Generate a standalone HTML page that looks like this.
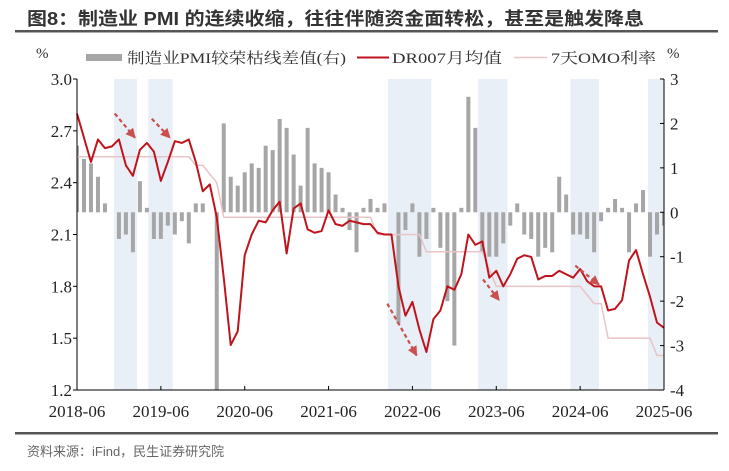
<!DOCTYPE html>
<html><head><meta charset="utf-8"><style>
html,body{margin:0;padding:0;background:#fff;}
svg{display:block;}
</style></head><body>
<svg id="chart" width="729" height="471" viewBox="0 0 729 471" xmlns="http://www.w3.org/2000/svg">
<text x="27" y="25" font-family="Liberation Sans, Noto Sans CJK SC, sans-serif" font-size="18" font-weight="bold" fill="#333" textLength="617" lengthAdjust="spacingAndGlyphs">图8：制造业 PMI 的连续收缩，往往伴随资金面转松，甚至是触发降息</text>
<rect x="15" y="30" width="703" height="2.5" fill="#555"/>
<g id="legend" font-family="Liberation Serif, Noto Serif CJK SC, serif" font-size="15" fill="#333">
  <text x="36" y="58">%</text>
  <g><rect x="86" y="54" width="36" height="7" fill="#a6a6a6"/><text x="127" y="63" textLength="219" lengthAdjust="spacingAndGlyphs">制造业PMI较荣枯线差值(右)</text></g>
  <g><line x1="357" y1="57.5" x2="389" y2="57.5" stroke="#c0141c" stroke-width="2"/><text x="392" y="63" textLength="110" lengthAdjust="spacingAndGlyphs">DR007月均值</text></g>
  <g><line x1="514" y1="57.5" x2="547" y2="57.5" stroke="#e8c4c8" stroke-width="1.5"/><text x="551" y="63" textLength="105" lengthAdjust="spacingAndGlyphs">7天OMO利率</text></g>
  <text x="667" y="58">%</text>
</g>
<g id="plot"></g>
<rect x="15" y="432" width="703" height="2.5" fill="#555"/>
<text x="27" y="456" font-family="Liberation Sans, Noto Sans CJK SC, sans-serif" font-size="13" fill="#666">资料来源：iFind，民生证券研究院</text>
</svg>
<script>
const months = 85;
const xTickLabels = ["2018-06","2019-06","2020-06","2021-06","2022-06","2023-06","2024-06","2025-06"];
const leftTicks = [1.2,1.5,1.8,2.1,2.4,2.7,3.0];
const rightTicks = [-4,-3,-2,-1,0,1,2,3];
const dr007 = [2.80,2.66,2.52,2.65,2.60,2.61,2.65,2.50,2.44,2.59,2.63,2.58,2.41,2.52,2.64,2.63,2.65,2.52,2.35,2.39,2.20,1.85,1.46,1.54,1.98,2.10,2.18,2.17,2.24,2.29,1.99,2.25,2.28,2.13,2.11,2.12,2.24,2.16,2.15,2.18,2.17,2.16,2.16,2.11,2.10,2.10,1.80,1.63,1.71,1.55,1.42,1.61,1.66,1.80,1.78,1.87,2.10,2.04,2.06,1.85,1.89,1.80,1.87,1.96,1.98,1.97,1.84,1.86,1.86,1.89,1.87,1.85,1.90,1.83,1.80,1.80,1.66,1.67,1.72,1.95,2.01,1.87,1.74,1.59,1.56];
const omo = [2.55,2.55,2.55,2.55,2.55,2.55,2.55,2.55,2.55,2.55,2.55,2.55,2.55,2.55,2.55,2.55,2.55,2.50,2.50,2.45,2.40,2.20,2.20,2.20,2.20,2.20,2.20,2.20,2.20,2.20,2.20,2.20,2.20,2.20,2.20,2.20,2.20,2.20,2.20,2.20,2.20,2.20,2.20,2.10,2.10,2.10,2.10,2.10,2.10,2.10,2.00,2.00,2.00,2.00,2.00,2.00,2.00,2.00,2.00,1.90,1.80,1.80,1.80,1.80,1.80,1.80,1.80,1.80,1.80,1.80,1.80,1.80,1.80,1.75,1.70,1.70,1.50,1.50,1.50,1.50,1.50,1.50,1.50,1.40,1.40];
const pmiGap = [1.5,1.2,1.1,0.8,0.2,0,-0.6,-0.5,-0.9,0.7,0.1,-0.6,-0.6,-0.3,-0.5,-0.2,-0.7,0.2,0.2,0,-4.5,2.0,0.8,0.6,0.9,1.1,1.0,1.5,1.4,2.1,1.9,1.3,0.6,1.9,1.1,1.0,0.9,0.4,0.1,-0.4,-0.9,0.1,0.3,0.1,0.2,0,-2.5,-0.4,0.2,-1.0,-0.6,0.1,-0.8,-2.0,-3.0,0.1,2.6,1.9,-0.9,-1.0,-1.0,-0.7,-0.3,0.2,-0.5,-0.6,-1.0,-0.8,-0.9,0.8,0.4,-0.5,-0.5,-0.6,-0.9,-0.2,0.1,0.3,0.1,-0.9,0.2,0.5,-1.0,-0.5,-0.3];
const shadedStart = [5.3,10.2,44.5,57.4,70.6,81.7];
const shadedEnd = [8.6,13.7,50.7,61.6,74.7,84];
const arrowFrom = [[5.4,2.80],[10.7,2.77],[44.4,1.70],[58.1,1.84],[71.3,1.92]];
const arrowTo = [[8.3,2.66],[13.3,2.66],[48.6,1.40],[60.4,1.72],[74.7,1.81]];

const NS="http://www.w3.org/2000/svg";
const X0=77,X1=664,Y0=79,Y1=390;
const xS=i=>X0+(X1-X0)*i/84;
const yL=v=>Y1-(v-1.2)/(3.0-1.2)*(Y1-Y0);
const yR=v=>Y1-(v+4)/7*(Y1-Y0);
const plot=document.getElementById('plot');
function mk(tag,attrs,parent){const e=document.createElementNS(NS,tag);for(const k in attrs)e.setAttribute(k,attrs[k]);(parent||plot).appendChild(e);return e;}
const defs=mk('defs',{});
const cp=mk('clipPath',{id:'clip'},defs);mk('rect',{x:X0,y:Y0,width:X1-X0,height:Y1-Y0},cp);
const mkr=mk('marker',{id:'ah',markerWidth:10,markerHeight:10,refX:9,refY:5,orient:'auto',markerUnits:'userSpaceOnUse'},defs);
mk('path',{d:'M0,0 L10,5 L0,10 z',fill:'#c9504c'},mkr);

for(let k=0;k<shadedStart.length;k++){
  const r=mk('rect',{x:xS(shadedStart[k]),y:Y0,width:xS(shadedEnd[k])-xS(shadedStart[k]),height:Y1-Y0,fill:'#e9eff7'});
  
  
}
const bars=mk('g',{'clip-path':'url(#clip)'});


pmiGap.forEach((v,i)=>{
  if(v===0)return;
  const y0=yR(0),y1=yR(v);
  const b=mk('rect',{x:xS(i)-2,y:Math.min(y0,y1),width:4,height:Math.abs(y1-y0),fill:'#a6a6a6'},bars);
  
  
});
const omoL=mk('polyline',{points:omo.map((v,i)=>xS(i)+','+yL(v)).join(' '),fill:'none',stroke:'#e8c4c8','stroke-width':1.5});


const drL=mk('polyline',{points:dr007.map((v,i)=>xS(i)+','+yL(v)).join(' '),fill:'none',stroke:'#c0141c','stroke-width':2,'stroke-linejoin':'round'});


for(let k=0;k<arrowFrom.length;k++){
  const a=mk('line',{x1:xS(arrowFrom[k][0]),y1:yL(arrowFrom[k][1]),x2:xS(arrowTo[k][0]),y2:yL(arrowTo[k][1]),stroke:'#c9504c','stroke-width':2.2,'stroke-dasharray':'4,3','marker-end':'url(#ah)'});
  
  
}
const ax={stroke:'#000','stroke-width':1};
const la=mk('line',Object.assign({x1:X0,y1:Y0,x2:X0,y2:Y1},ax));


const ra=mk('line',Object.assign({x1:X1,y1:Y0,x2:X1,y2:Y1},ax));


const ba=mk('line',Object.assign({x1:X0,y1:Y1,x2:X1,y2:Y1},ax));


const font='Liberation Serif, serif';
leftTicks.forEach(v=>{
  mk('line',Object.assign({x1:X0-4,y1:yL(v),x2:X0,y2:yL(v)},ax));
  const t=mk('text',{x:X0-5,y:yL(v)+6,'text-anchor':'end','font-family':font,'font-size':17,fill:'#222'});
  t.textContent=v.toFixed(1);
  
  
});
rightTicks.forEach(v=>{
  mk('line',Object.assign({x1:X1-4,y1:yR(v),x2:X1,y2:yR(v)},ax));
  const t=mk('text',{x:X1+6,y:yR(v)+6,'font-family':font,'font-size':17,fill:'#222'});
  t.textContent=String(v);
  
  
});
xTickLabels.forEach((s,k)=>{
  const x=xS(k*12);
  mk('line',Object.assign({x1:x,y1:Y1-4,x2:x,y2:Y1},ax));
  const t=mk('text',{x:x,y:417,'text-anchor':'middle','font-family':font,'font-size':17,fill:'#222'});
  t.textContent=s;
  
  
});
</script>
</body></html>
